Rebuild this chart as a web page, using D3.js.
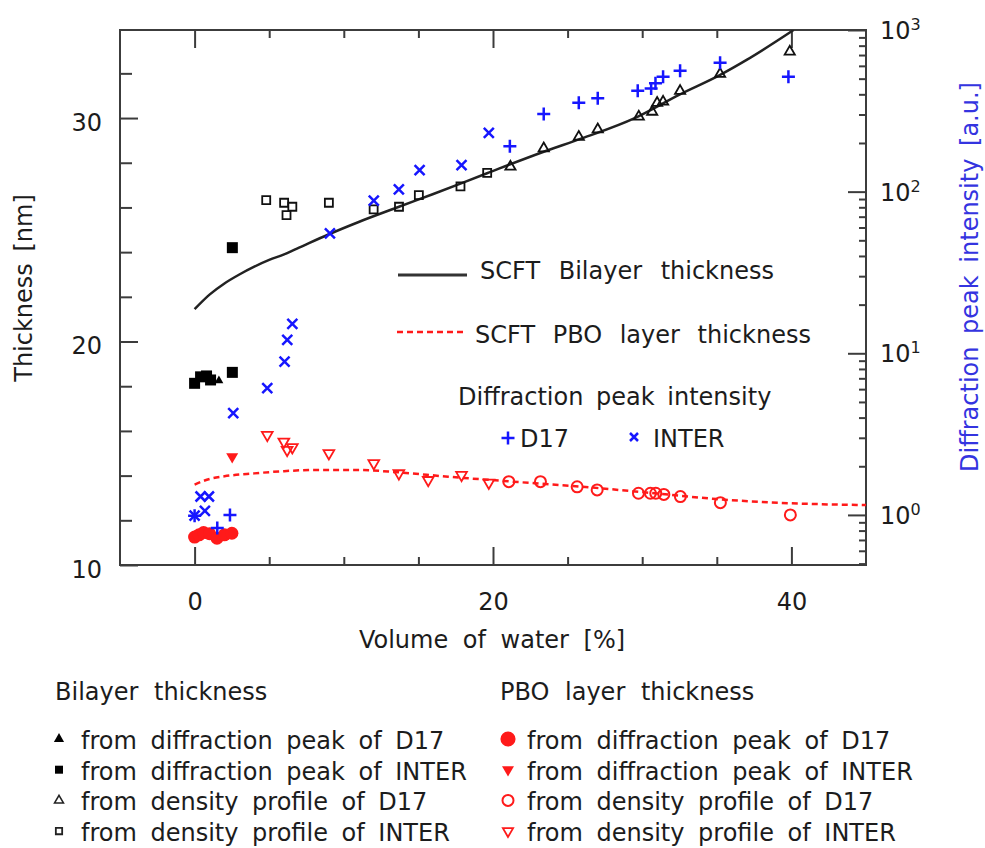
<!DOCTYPE html>
<html>
<head>
<meta charset="utf-8">
<script src="https://cdn.jsdelivr.net/npm/d3@7"></script>
<style>
  body { margin: 0; background: #fff; }
  text { font-family: "DejaVu Sans", Verdana, sans-serif; fill: #1c1c1c; }
</style>
</head>
<body>
<svg id="chart" width="985" height="848"></svg>
<script>
// ---- Data: [volume of water %, value] ----
// Bilayer thickness [nm]
const bilayerPeakD17 = [[1.63, 18.25]];
const bilayerPeakInter = [[0, 18.13], [0.4, 18.42], [0.8, 18.46], [1.07, 18.28], [2.53, 18.62], [2.53, 24.2]];
const bilayerProfileD17 = [[21.17, 27.82], [23.4, 28.64], [25.75, 29.16], [27.02, 29.49], [29.77, 30.06],
  [30.67, 30.28], [31.0, 30.68], [31.4, 30.73], [32.54, 31.21], [35.22, 31.97], [39.89, 32.97]];
const bilayerProfileInter = [[4.8, 26.33], [6.0, 26.21], [6.55, 26.03], [6.16, 25.66], [9.0, 26.21],
  [12.0, 25.91], [13.7, 26.03], [15.03, 26.55], [17.82, 26.94], [19.61, 27.55]];

// PBO layer thickness [nm]
const pboPeakD17 = [[0, 11.25], [0.3, 11.35], [0.6, 11.45], [1.0, 11.4], [1.5, 11.2], [2.0, 11.35], [2.5, 11.42]];
const pboPeakInter = [[2.52, 14.85]];
const pboProfileD17 = [[21.06, 13.73], [23.18, 13.73], [25.64, 13.5], [26.98, 13.36], [29.75, 13.21],
  [30.55, 13.21], [30.91, 13.21], [31.45, 13.16], [32.56, 13.06], [35.24, 12.79], [39.93, 12.24]];
const pboProfileInter = [[4.87, 15.82], [5.98, 15.52], [6.2, 15.15], [6.55, 15.27], [9.0, 15.0],
  [12.01, 14.55], [13.69, 14.1], [15.66, 13.8], [17.89, 14.03], [19.72, 13.68]];

// SCFT model curves [nm]
const scftBilayer = [[0, 21.45], [1, 22.1], [2, 22.6], [3, 23.0], [4, 23.35], [5, 23.65], [6, 23.9],
  [7, 24.2], [9, 24.8], [11, 25.35], [13.7, 26.03], [16, 26.6], [19.6, 27.53], [23.4, 28.49],
  [26, 29.1], [29.5, 30.0], [32.5, 31.05], [35.2, 31.92], [37, 32.6], [40.15, 33.94]];
const scftPbo = [[0, 13.6], [1, 13.85], [2, 13.97], [4, 14.1], [6, 14.2], [8, 14.25], [11, 14.25],
  [13.6, 14.15], [17, 13.95], [20.7, 13.76], [26, 13.5], [31, 13.2], [35, 12.95], [38.6, 12.8],
  [42, 12.72], [45, 12.68]];

// Diffraction peak intensity [a.u.]
const intensityD17 = [[0, 0.99], [1.52, 0.83], [2.37, 1.0], [21.13, 191], [23.4, 302], [25.75, 355],
  [27.02, 378], [29.7, 421], [30.6, 435], [30.89, 468], [31.4, 513], [32.54, 560], [35.22, 627], [39.8, 513]];
const intensityInter = [[0, 0.99], [0.4, 1.3], [0.69, 1.06], [0.96, 1.3], [2.59, 4.26], [4.87, 6.08],
  [6.03, 8.87], [6.21, 12.1], [6.55, 15.2], [9.07, 55.2], [12.01, 87.9], [13.69, 103.3], [15.08, 136],
  [17.89, 146], [19.72, 231]];

// Axis ticks
const xMajorTicks = [0, 20, 40];
const xMinorTicks = [5, 10, 15, 25, 30, 35];
const yMajorTicks = [10, 20, 30];
const yMinorTicks = [12, 14, 16, 18, 22, 24, 26, 28, 32];
const logMajorTicks = [1, 10, 100, 1000];
const logMinorTicks = [0.5, 0.6, 0.7, 0.8, 0.9, 2, 3, 4, 5, 6, 7, 8, 9, 20, 30, 40, 50, 60, 70, 80, 90,
  200, 300, 400, 500, 600, 700, 800, 900];

// ---- Layout ----
const svg = d3.select("#chart");
const L = 120, R = 866, T = 30, B = 565;
const BLUE = "#1616ff", RED = "#ff1a1a", INK = "#1c1c1c", AXIS = "#3c3c3c";

const x = d3.scaleLinear().domain([-5, 45]).range([L, R]);
const yL = d3.scaleLinear().domain([10, 33.94]).range([B, T]);
const yR = d3.scaleLog().domain([0.49, 1000]).range([B, T]);

// custom line symbols
const plusSym = { draw(ctx, size) { const r = Math.sqrt(size) / 2;
  ctx.moveTo(-r, 0); ctx.lineTo(r, 0); ctx.moveTo(0, -r); ctx.lineTo(0, r); } };
const crossSym = { draw(ctx, size) { const r = Math.sqrt(size) / 2;
  ctx.moveTo(-r, -r); ctx.lineTo(r, r); ctx.moveTo(-r, r); ctx.lineTo(r, -r); } };

// ---- Axes ----
function styleAxis(g) {
  g.select(".domain").remove();
  g.selectAll(".tick line").attr("stroke", AXIS).attr("stroke-width", 2);
  g.selectAll("text").attr("font-size", 24).attr("fill", INK);
}
// bottom
svg.append("g").attr("transform", `translate(0,${B})`)
  .call(d3.axisBottom(x).tickValues(xMajorTicks).tickSize(-18).tickPadding(28).tickFormat(d3.format("d")))
  .call(styleAxis);
svg.append("g").attr("transform", `translate(0,${B})`)
  .call(d3.axisBottom(x).tickValues(xMinorTicks).tickSize(-8).tickFormat(""))
  .call(styleAxis);
// top (mirror)
svg.append("g").attr("transform", `translate(0,${T})`)
  .call(d3.axisTop(x).tickValues(xMajorTicks).tickSize(-18).tickFormat(""))
  .call(styleAxis);
svg.append("g").attr("transform", `translate(0,${T})`)
  .call(d3.axisTop(x).tickValues(xMinorTicks).tickSize(-8).tickFormat(""))
  .call(styleAxis);
// left
const leftAxis = svg.append("g").attr("transform", `translate(${L},0)`)
  .call(d3.axisLeft(yL).tickValues(yMajorTicks).tickSize(-18).tickPadding(18).tickFormat(d3.format("d")))
  .call(styleAxis);
leftAxis.selectAll("text").attr("dy", "0.5em");
svg.append("g").attr("transform", `translate(${L},0)`)
  .call(d3.axisLeft(yL).tickValues(yMinorTicks).tickSize(-12).tickFormat(""))
  .call(styleAxis);
// right (log)
const rightAxis = svg.append("g").attr("transform", `translate(${R},0)`)
  .call(d3.axisRight(yR).tickValues(logMajorTicks).tickSize(-18).tickFormat(""))
  .call(styleAxis);
rightAxis.selectAll(".tick").append("text")
  .attr("x", 14).attr("dy", "0.36em").attr("font-size", 24).attr("fill", INK)
  .call(t => {
    t.append("tspan").text("10");
    t.append("tspan").attr("dy", -9).attr("font-size", 16).text(d => Math.round(Math.log10(d)));
  });
svg.append("g").attr("transform", `translate(${R},0)`)
  .call(d3.axisRight(yR).tickValues(logMinorTicks).tickSize(-7).tickFormat(""))
  .call(styleAxis);

// frame
svg.append("rect").attr("x", L).attr("y", T).attr("width", R - L).attr("height", B - T)
  .attr("fill", "none").attr("stroke", AXIS).attr("stroke-width", 2);

// axis titles
svg.append("text").attr("transform", "translate(32,288) rotate(-90)")
  .attr("text-anchor", "middle").attr("font-size", 24).attr("word-spacing", 4).text("Thickness [nm]");
svg.append("text").attr("transform", "translate(978,277) rotate(-90)")
  .attr("text-anchor", "middle").attr("font-size", 24).attr("word-spacing", 5)
  .style("fill", "#3434e0").text("Diffraction peak intensity [a.u.]");
svg.append("text").attr("x", 492).attr("y", 648).attr("text-anchor", "middle")
  .attr("font-size", 24).attr("word-spacing", 7).text("Volume of water [%]");

// ---- Plot area ----
svg.append("clipPath").attr("id", "plotClip").append("rect")
  .attr("x", L).attr("y", T).attr("width", R - L).attr("height", B - T);
const plot = svg.append("g").attr("clip-path", "url(#plotClip)");

const lineL = d3.line().x(d => x(d[0])).y(d => yL(d[1])).curve(d3.curveMonotoneX);
plot.append("path").datum(scftBilayer).attr("d", lineL)
  .attr("fill", "none").attr("stroke", "#222").attr("stroke-width", 2.5);
plot.append("path").datum(scftPbo).attr("d", lineL)
  .attr("fill", "none").attr("stroke", RED).attr("stroke-width", 2.5).attr("stroke-dasharray", "6,4");

const series = [
  { data: bilayerProfileInter, y: yL, type: d3.symbolSquare, size: 64, fill: "none", stroke: "#111", sw: 1.8 },
  { data: bilayerProfileD17, y: yL, type: d3.symbolTriangle, size: 45, fill: "none", stroke: "#111", sw: 1.8 },
  { data: bilayerPeakInter, y: yL, type: d3.symbolSquare, size: 121, fill: "#000", stroke: "none", sw: 0 },
  { data: bilayerPeakD17, y: yL, type: d3.symbolTriangle, size: 34, fill: "#000", stroke: "none", sw: 0 },
  { data: pboProfileInter, y: yL, type: d3.symbolTriangle, size: 50, fill: "none", stroke: RED, sw: 1.8, rot: 180 },
  { data: pboProfileD17, y: yL, type: d3.symbolCircle, size: 95, fill: "none", stroke: RED, sw: 2 },
  { data: pboPeakInter, y: yL, type: d3.symbolTriangle, size: 62, fill: RED, stroke: "none", sw: 0, rot: 180 },
  { data: pboPeakD17, y: yL, type: d3.symbolCircle, size: 133, fill: RED, stroke: "none", sw: 0 },
  { data: intensityD17, y: yR, type: plusSym, size: 169, fill: "none", stroke: BLUE, sw: 2.5 },
  { data: intensityInter, y: yR, type: crossSym, size: 100, fill: "none", stroke: BLUE, sw: 2.5 }
];

series.forEach(s => {
  plot.append("g").selectAll("path").data(s.data).join("path")
    .attr("transform", d => `translate(${x(d[0])},${s.y(d[1])})` + (s.rot ? ` rotate(${s.rot})` : ""))
    .attr("d", d3.symbol().type(s.type).size(s.size))
    .attr("fill", s.fill).attr("stroke", s.stroke).attr("stroke-width", s.sw);
});

// ---- In-plot legend ----
const leg = svg.append("g");
leg.append("line").attr("x1", 398).attr("x2", 467).attr("y1", 275).attr("y2", 275)
  .attr("stroke", "#333").attr("stroke-width", 3);
leg.append("text").attr("x", 480).attr("y", 279).attr("font-size", 24).attr("word-spacing", 11)
  .text("SCFT Bilayer thickness");
leg.append("line").attr("x1", 397).attr("x2", 465).attr("y1", 332).attr("y2", 332)
  .attr("stroke", RED).attr("stroke-width", 2.5).attr("stroke-dasharray", "6,4");
leg.append("text").attr("x", 475).attr("y", 343).attr("font-size", 24).attr("word-spacing", 10)
  .text("SCFT PBO layer thickness");
leg.append("text").attr("x", 458).attr("y", 405).attr("font-size", 24).attr("word-spacing", 5)
  .text("Diffraction peak intensity");
leg.append("path").attr("transform", "translate(508,438)")
  .attr("d", d3.symbol().type(plusSym).size(169)).attr("stroke", BLUE).attr("stroke-width", 2.5);
leg.append("text").attr("x", 520).attr("y", 447).attr("font-size", 24).text("D17");
leg.append("path").attr("transform", "translate(634,437)")
  .attr("d", d3.symbol().type(crossSym).size(64)).attr("stroke", BLUE).attr("stroke-width", 2.5);
leg.append("text").attr("x", 653).attr("y", 447).attr("font-size", 24).text("INTER");

// ---- Bottom legends ----
const bilayerLegend = [
  { label: "from diffraction peak of D17", type: d3.symbolTriangle, size: 45, fill: "#000", stroke: "none", sw: 0 },
  { label: "from diffraction peak of INTER", type: d3.symbolSquare, size: 64, fill: "#000", stroke: "none", sw: 0 },
  { label: "from density profile of D17", type: d3.symbolTriangle, size: 34, fill: "none", stroke: "#222", sw: 1.6 },
  { label: "from density profile of INTER", type: d3.symbolSquare, size: 40, fill: "none", stroke: "#222", sw: 1.8 }
];
const pboLegend = [
  { label: "from diffraction peak of D17", type: d3.symbolCircle, size: 180, fill: RED, stroke: "none", sw: 0 },
  { label: "from diffraction peak of INTER", type: d3.symbolTriangle, size: 62, fill: RED, stroke: "none", sw: 0, rot: 180 },
  { label: "from density profile of D17", type: d3.symbolCircle, size: 95, fill: "none", stroke: RED, sw: 2 },
  { label: "from density profile of INTER", type: d3.symbolTriangle, size: 45, fill: "none", stroke: RED, sw: 1.8, rot: 180 }
];

function drawLegend(title, items, tx, mx, lx) {
  const g = svg.append("g");
  g.append("text").attr("x", tx).attr("y", 700).attr("font-size", 24).attr("word-spacing", 8).text(title);
  items.forEach((it, i) => {
    const by = 749 + i * 30.7;
    g.append("path")
      .attr("transform", `translate(${mx},${by - 10})` + (it.rot ? ` rotate(${it.rot})` : ""))
      .attr("d", d3.symbol().type(it.type).size(it.size))
      .attr("fill", it.fill).attr("stroke", it.stroke).attr("stroke-width", it.sw);
    g.append("text").attr("x", lx).attr("y", by).attr("font-size", 24).attr("word-spacing", 6).text(it.label);
  });
}
drawLegend("Bilayer thickness", bilayerLegend, 55, 59, 81);
drawLegend("PBO layer thickness", pboLegend, 500, 508, 527);
</script>
</body>
</html>
